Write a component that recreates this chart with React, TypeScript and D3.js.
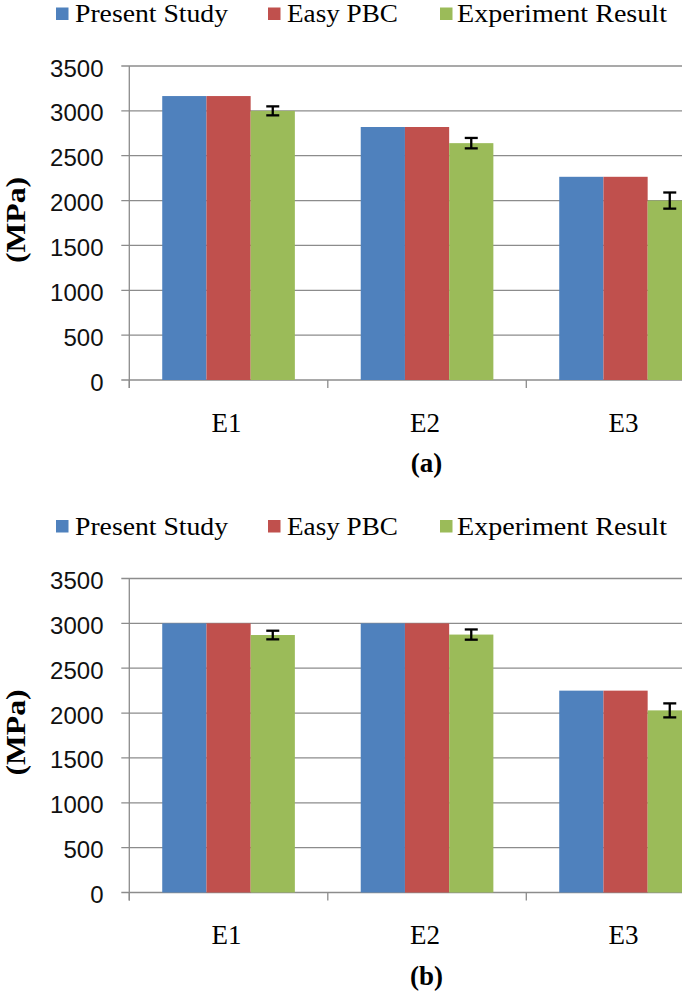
import React from "react";
import * as d3 from "d3";

const categories = ["E1", "E2", "E3"];
const seriesNames = ["Present Study", "Easy PBC", "Experiment Result"];
const seriesColors = ["#4F81BD", "#C0504D", "#9BBB59"];
const yTicks = [0, 500, 1000, 1500, 2000, 2500, 3000, 3500];

// Panel (a)
const presentA = [3165, 2820, 2265];
const easyA = [3165, 2820, 2265];
const experimentA = [3000, 2640, 2000];
const errorA = [50, 58, 90];

// Panel (b)
const presentB = [3000, 3000, 2250];
const easyB = [3000, 3000, 2250];
const experimentB = [2870, 2875, 2030];
const errorB = [48, 57, 78];

const panels = [
  { label: "(a)", series: [presentA, easyA, experimentA], err: errorA, off: 0 },
  { label: "(b)", series: [presentB, easyB, experimentB], err: errorB, off: 512.5 },
];

const AX = 129.3;
const CAT_W = 198.5;
const CLIP_R = 682;
const TOP = 66;
const BOT = 380;
const SERIF = "Liberation Serif, Times New Roman, DejaVu Serif, serif";
const SANS = "Liberation Sans, Arial, sans-serif";
const GRID = "#8c8c8c";

const legendItems = [
  { sq: 56, tx: 75, len: 153 },
  { sq: 268, tx: 287, len: 111 },
  { sq: 440, tx: 457, len: 210 },
];

function Panel({ p, idx }: { p: any; idx: number }) {
  const off = p.off;
  const x0 = d3.scaleBand<string>().domain(categories).range([AX, AX + CAT_W * 3]).padding(0);
  const x1 = d3
    .scaleBand<string>()
    .domain(seriesNames)
    .range([0, x0.bandwidth()])
    .paddingInner(0)
    .paddingOuter(0.745);
  const y = d3.scaleLinear().domain([0, 3500]).range([BOT + off, TOP + off]);
  const clipId = `clip${idx}`;
  const boundaries = [AX, AX + CAT_W, AX + CAT_W * 2];
  const serif = { fontFamily: SERIF };
  return (
    <g>
      <defs>
        <clipPath id={clipId}>
          <rect x={0} y={0} width={CLIP_R} height={991} />
        </clipPath>
      </defs>
      {/* legend */}
      {legendItems.map((l, i) => (
        <g key={i}>
          <rect x={l.sq} y={7.5 + off} width={12.5} height={12.5} fill={seriesColors[i]} />
          <text
            x={l.tx}
            y={22.3 + off}
            style={serif}
            fontSize={25}
            textLength={l.len}
            lengthAdjust="spacingAndGlyphs"
            fill="#000"
          >
            {seriesNames[i]}
          </text>
        </g>
      ))}
      {/* gridlines + ticks */}
      <g clipPath={`url(#${clipId})`}>
        {yTicks.map((t) => (
          <line
            key={t}
            x1={AX - 8}
            x2={AX + CAT_W * 3}
            y1={y(t)}
            y2={y(t)}
            stroke={GRID}
            strokeWidth={1.3}
          />
        ))}
      </g>
      {yTicks.map((t) => (
        <text
          key={"l" + t}
          x={103.5}
          y={y(t) + 2}
          textAnchor="end"
          dominantBaseline="central"
          style={{ fontFamily: SANS }}
          fontSize={24}
          fill="#111"
        >
          {t}
        </text>
      ))}
      {/* y axis line */}
      <line x1={AX} x2={AX} y1={TOP + off} y2={BOT + off + 8} stroke={GRID} strokeWidth={1.3} />
      {boundaries.map((b, i) => (
        <line key={i} x1={b} x2={b} y1={BOT + off} y2={BOT + off + 8} stroke={GRID} strokeWidth={1.3} />
      ))}
      {/* bars */}
      <g clipPath={`url(#${clipId})`}>
        {categories.map((c, ci) =>
          seriesNames.map((s, si) => {
            const v = p.series[si][ci];
            return (
              <rect
                key={c + s}
                x={(x0(c) as number) + (x1(s) as number)}
                y={y(v)}
                width={x1.bandwidth()}
                height={y(0) - y(v)}
                fill={seriesColors[si]}
              />
            );
          })
        )}
        {categories.map((c, ci) => {
          const v = p.series[2][ci];
          const e = p.err[ci];
          const cx = (x0(c) as number) + (x1(seriesNames[2]) as number) + x1.bandwidth() / 2;
          return (
            <g key={"e" + c} stroke="#000" strokeWidth={2.3}>
              <line x1={cx} x2={cx} y1={y(v + e)} y2={y(v - e)} />
              <line x1={cx - 6.5} x2={cx + 6.5} y1={y(v + e)} y2={y(v + e)} />
              <line x1={cx - 6.5} x2={cx + 6.5} y1={y(v - e)} y2={y(v - e)} />
            </g>
          );
        })}
      </g>
      {/* category labels */}
      {categories.map((c) => (
        <text
          key={"c" + c}
          x={(x0(c) as number) + x0.bandwidth() / 2 - 2}
          y={431.7 + off}
          textAnchor="middle"
          style={serif}
          fontSize={27}
          fill="#000"
        >
          {c}
        </text>
      ))}
      {/* y-axis title */}
      <text
        transform={`translate(24.5, ${220 + off}) rotate(-90)`}
        textAnchor="middle"
        style={serif}
        fontWeight="bold"
        fontSize={27}
        textLength={86}
        lengthAdjust="spacingAndGlyphs"
        fill="#000"
      >
        (MPa)
      </text>
      {/* panel label */}
      <text
        x={426.5}
        y={472 + off}
        textAnchor="middle"
        style={serif}
        fontWeight="bold"
        fontSize={27}
        fill="#000"
      >
        {p.label}
      </text>
    </g>
  );
}

export default function App() {
  return (
    <svg
      width={685}
      height={991}
      viewBox="0 0 685 991"
      style={{ position: "absolute", left: 0, top: 0, background: "#fff" }}
    >
      <rect x={0} y={0} width={685} height={991} fill="#fff" />
      {panels.map((p, i) => (
        <Panel key={i} p={p} idx={i} />
      ))}
    </svg>
  );
}
